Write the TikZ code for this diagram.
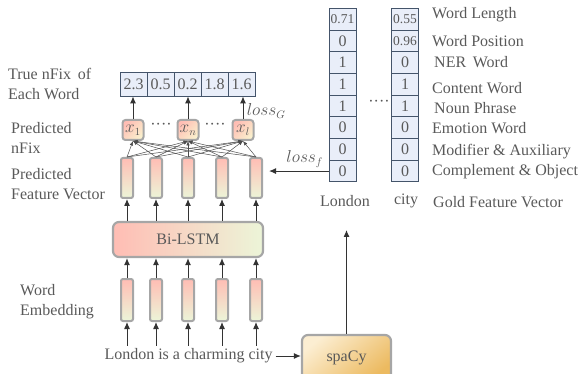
\documentclass[tikz,border=0pt]{standalone}
\usepackage{fontspec}
\setmainfont{Liberation Serif}
\usetikzlibrary{positioning,arrows.meta}

\definecolor{inkgray}{RGB}{89,89,89}
\definecolor{framegray}{RGB}{166,166,166}
\definecolor{cellfill}{RGB}{233,238,249}
\definecolor{celldraw}{RGB}{68,84,106}
\definecolor{warmpink}{RGB}{255,189,180}
\definecolor{softgreen}{RGB}{236,245,216}
\definecolor{paleyellow}{RGB}{250,240,205}
\definecolor{sandlight}{RGB}{252,238,210}
\definecolor{sanddark}{RGB}{236,186,96}

\tikzset{
  ->/.style={draw=black!80,line width=1pt,-{Latex[length=7pt,width=6pt]}},
  fan/.style={draw=black!70,line width=0.5pt,-{Latex[length=4.5pt,width=3.5pt]}},
  lbl/.style={align=left,anchor=west,inner sep=0pt},
  bar/.style={draw=framegray,line width=2pt,rounded corners=2pt,top color=warmpink,
    bottom color=softgreen,minimum width=12pt,minimum height=40pt,inner sep=0pt},
  nfix/.style={draw=framegray,line width=2pt,rounded corners=3pt,top color=warmpink,
    bottom color=paleyellow,shading angle=45,minimum width=21pt,minimum height=20pt,inner sep=0pt},
  lstm/.style={draw=framegray,line width=2.2pt,rounded corners=6pt,left color=warmpink,
    right color=softgreen,minimum width=150pt,minimum height=35pt},
  spacy/.style={draw=framegray,line width=2.2pt,rounded corners=6pt,top color=sandlight,
    bottom color=sanddark,shading angle=40,minimum width=89pt,minimum height=45pt},
  cell/.style={draw=celldraw,line width=0.8pt,fill=cellfill,minimum width=27pt,
    minimum height=24pt,inner sep=0pt},
  gold/.style={cell,minimum height=21.7pt},
  small/.style={font=\fontsize{13.5}{14}\selectfont}
}
\tikzstyle{every node}=[color=inkgray,font=\fontsize{16}{20}\selectfont]

\begin{document}
\begin{tikzpicture}[x=1pt,y=-1pt]
    \useasboundingbox (0,0) rectangle (581,374);
    % row labels
    \node[lbl] (lTrue) at (8,84) {True nFix\, of\\Each Word};
    \node[lbl] (lPred) at (11,138) {Predicted\\nFix};
    \node[lbl] (lFeat) at (11,184) {Predicted\\Feature Vector};
    \node[lbl] (lEmb) at (20,302) {Word\\Embedding};
    % true nFix values
    \node[cell] (v1) at (133.5,84) {2.3};
    \node[cell] (v2) at (160.5,84) {0.5};
    \node[cell] (v3) at (187.5,84) {0.2};
    \node[cell] (v4) at (214.5,84) {1.8};
    \node[cell] (v5) at (241.5,84) {1.6};
    % predicted nFix
    \node[nfix] (x1) at (133,130) {$x_1$};
    \node[nfix] (xn) at (188,130) {$x_n$};
    \node[nfix] (xl) at (243,130) {$x_l$};
    \node (dA) at (161,126) {····};
    \node (dB) at (215,126) {····};
    % predicted feature vectors
    \node[bar] (f1) at (127,178) {};
    \node[bar] (f2) at (156,178) {};
    \node[bar] (f3) at (188,178) {};
    \node[bar] (f4) at (222,178) {};
    \node[bar] (f5) at (256,178) {};
    \node[lstm] (lstm) at (188,239.5) {Bi-LSTM};
    % word embeddings
    \node[bar,minimum height=42pt] (e1) at (127,300) {};
    \node[bar,minimum height=42pt] (e2) at (156,300) {};
    \node[bar,minimum height=42pt] (e3) at (188,300) {};
    \node[bar,minimum height=42pt] (e4) at (222,300) {};
    \node[bar,minimum height=42pt] (e5) at (256,300) {};
    \node[inner sep=3pt] (sent) at (188.5,356) {London is a charming city};
    \node[spacy] (spacy) at (346.5,357.5) {spaCy};
    \coordinate (goldin) at (346.5,230);
    % gold feature vector of "London"
    \node[gold,small] (L1) at (342.5,19.15) {0.71};
    \node[gold] (L2) at (342.5,40.85) {0};
    \node[gold] (L3) at (342.5,62.55) {1};
    \node[gold] (L4) at (342.5,84.25) {1};
    \node[gold] (L5) at (342.5,105.95) {1};
    \node[gold] (L6) at (342.5,127.65) {0};
    \node[gold] (L7) at (342.5,149.35) {0};
    \node[gold] (L8) at (342.5,171.05) {0};
    % gold feature vector of "city"
    \node[gold,small] (C1) at (405,19.15) {0.55};
    \node[gold,small] (C2) at (405,40.85) {0.96};
    \node[gold] (C3) at (405,62.55) {0};
    \node[gold] (C4) at (405,84.25) {1};
    \node[gold] (C5) at (405,105.95) {1};
    \node[gold] (C6) at (405,127.65) {0};
    \node[gold] (C7) at (405,149.35) {0};
    \node[gold] (C8) at (405,171.05) {0};
    \node (dC) at (379,103) {····};
    \node (wLondon) at (345,201) {London};
    \node (wCity) at (406,201) {city};
    % feature names
    \node[lbl] (n1) at (432,15) {Word Length};
    \node[lbl] (n2) at (432,41) {Word Position};
    \node[lbl] (n3) at (434,62) {NER\, Word};
    \node[lbl] (n4) at (432,88) {Content Word};
    \node[lbl] (n5) at (434,108) {Noun Phrase};
    \node[lbl] (n6) at (432,128) {Emotion Word};
    \node[lbl] (n7) at (432,152) {Modifier \& Auxiliary};
    \node[lbl] (n8) at (432,172) {Complement \& Object};
    \node[lbl] (n9) at (433,202) {Gold Feature Vector};

    \foreach \c in {1,...,5} {
        \draw [->] (sent.north -| e\c.south) -- (e\c.south);
        \draw [->] (e\c.north) -- (e\c.north |- lstm.south);
        \draw [->] (f\c.south |- lstm.north) -- (f\c.south);
        \foreach \x in {x1,xn,xl}
            \draw [fan] (f\c.north) -- (\x.south);
    }
    \draw [->] (x1.north) -- (x1.north |- v1.south);
    \draw [->] (xn.north) -- (xn.north |- v3.south);
    \draw [->] (xl.north) -- node[right,pos=0.35] {$loss_G$} (xl.north |- v5.south);
    \draw [->] (L8.west) -- node[above,pos=0.4] {$loss_f$} ([xshift=6pt]f5.east |- L8.west);
    \draw [->] (sent.east) -- (sent.east -| spacy.west);
    \draw [->] (spacy.north) -- (goldin);
\end{tikzpicture}
\end{document}
